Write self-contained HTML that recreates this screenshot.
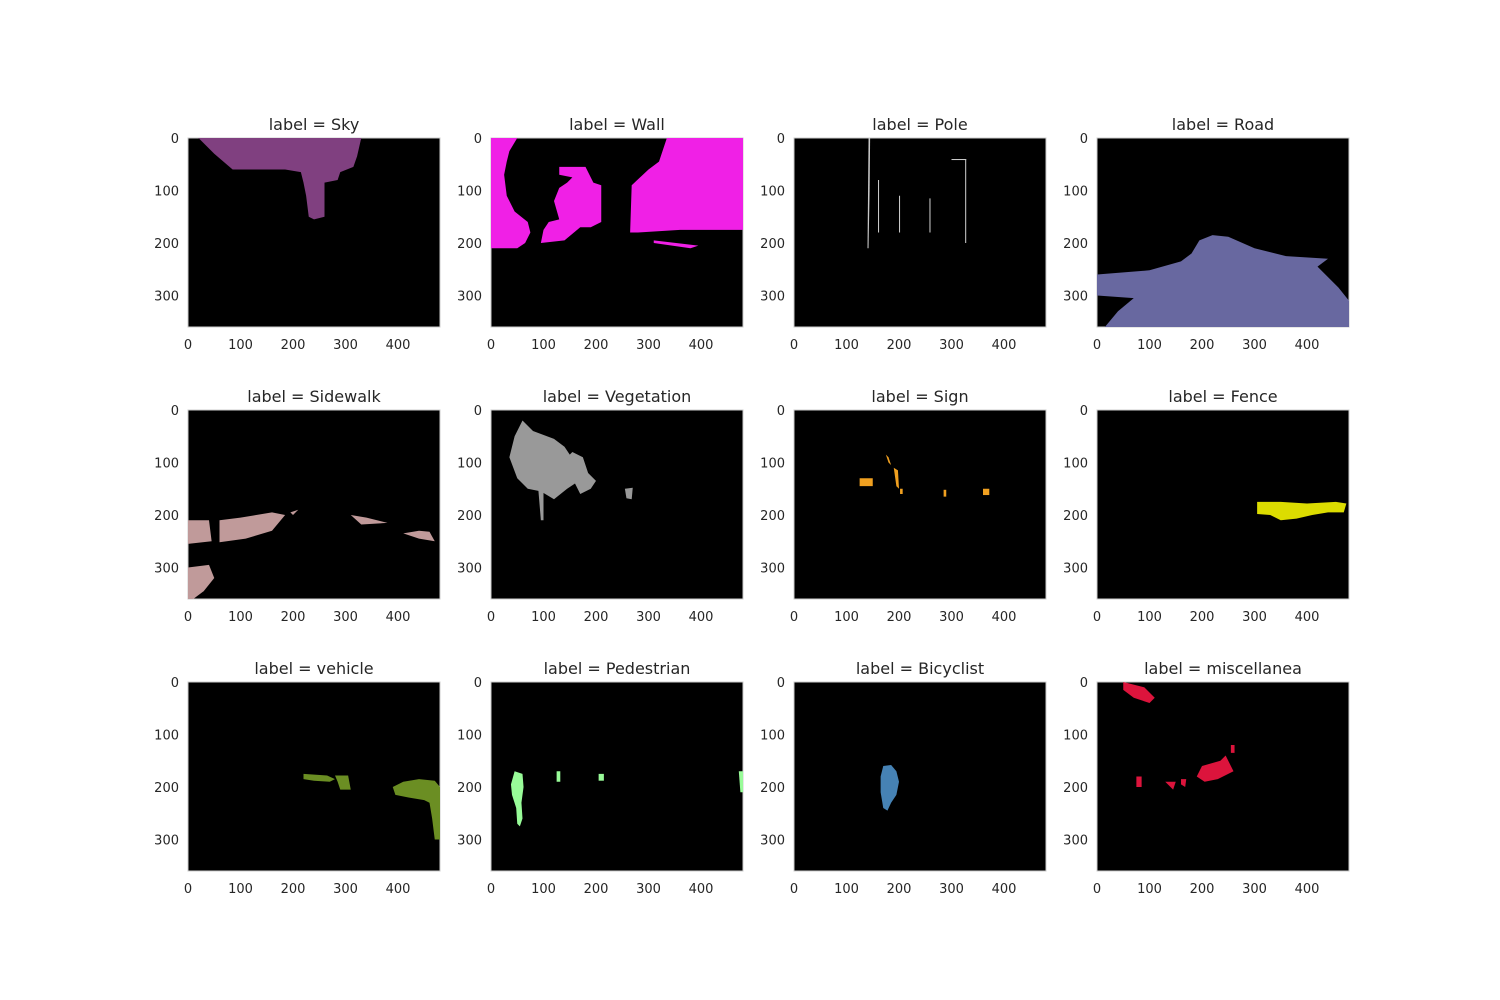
<!DOCTYPE html>
<html><head><meta charset="utf-8">
<style>
body{margin:0;background:#fff;}
svg{display:block;font-family:"DejaVu Sans","Liberation Sans",sans-serif;}
</style></head>
<body>
<svg id="fig" width="1500" height="1000" viewBox="0 0 1500 1000"></svg>
<script>
// Panel data: labels, colors, and region polygons in image coordinates (480x360)
const labels = ["Sky","Wall","Pole","Road","Sidewalk","Vegetation","Sign","Fence","vehicle","Pedestrian","Bicyclist","miscellanea"];
const colors = ["#804080","#f020e6","#c8c8c8","#6868a0","#c09a9a","#999999","#f0a020","#dcdc00","#6b8e23","#98fb98","#4682b4","#dc143c"];
const xTicks = [0,100,200,300,400];
const yTicks = [0,100,200,300];
const regions = [
 [[[20,0],[330,0],[322,35],[315,55],[290,65],[285,80],[260,85],[260,150],[240,155],[230,150],[225,110],[220,85],[215,65],[185,60],[170,60],[130,60],[85,60],[50,30],[20,0]]],
 [[[0,0],[50,0],[35,25],[30,45],[25,70],[30,110],[45,140],[70,160],[75,180],[65,200],[50,210],[0,210]],
  [[130,55],[180,55],[195,85],[210,90],[210,160],[190,170],[170,170],[140,195],[95,200],[100,175],[110,160],[130,155],[120,120],[130,95],[145,85],[155,75],[130,70]],
  [[335,0],[480,0],[480,175],[360,175],[280,180],[265,180],[268,90],[300,60],[320,45]],
  [[310,195],[395,205],[380,210],[310,200]]],
 [[[142,0],[145,0],[144,100],[142,210],[140,210]],[[160,80],[162,80],[162,180],[160,180]],[[200,110],[202,110],[202,180],[200,180]],[[258,115],[260,115],[260,180],[258,180]],[[326,40],[328,40],[328,200],[326,200]],[[300,40],[328,40],[328,42],[300,42]]],
 [[[0,260],[100,252],[160,235],[180,220],[195,195],[220,185],[250,188],[300,210],[360,225],[440,230],[420,245],[440,265],[460,285],[480,310],[480,360],[15,360],[40,330],[70,305],[0,300]]],
 [[[0,210],[40,210],[45,250],[0,255]],[[60,210],[100,205],[160,195],[185,200],[160,230],[110,245],[60,252]],[[310,200],[340,205],[380,215],[330,218]],[[410,235],[440,230],[460,232],[470,250],[440,245]],[[0,300],[40,295],[50,320],[30,345],[10,360],[0,360]],[[195,195],[210,190],[200,200]]],
 [[[60,20],[80,40],[120,55],[140,70],[150,85],[155,80],[175,90],[185,120],[200,135],[190,150],[170,160],[160,140],[145,150],[120,170],[95,155],[70,150],[50,130],[35,90],[45,50]],[[255,150],[270,148],[268,170],[258,168]],[[90,150],[95,210],[100,210],[100,150]]],
 [[[125,130],[150,130],[150,145],[125,145]],[[175,85],[180,90],[185,105],[180,100]],[[190,110],[198,115],[200,150],[195,145]],[[202,150],[207,150],[207,160],[202,160]],[[285,152],[290,152],[290,165],[285,165]],[[360,150],[372,150],[372,162],[360,162]]],
 [[[305,175],[350,175],[400,178],[455,175],[475,178],[470,195],[440,195],[410,200],[380,207],[350,210],[330,200],[305,198]]],
 [[[220,175],[265,178],[280,185],[270,190],[240,188],[220,185]],[[280,178],[305,178],[310,205],[290,205],[285,190]],[[390,200],[410,190],[440,185],[470,188],[480,200],[480,300],[470,300],[465,260],[460,230],[450,225],[420,220],[395,215]]],
 [[[45,170],[60,175],[62,200],[58,230],[60,260],[55,275],[50,270],[48,240],[40,215],[38,195]],[[125,170],[132,170],[132,190],[125,190]],[[205,175],[215,175],[215,188],[205,188]],[[472,170],[480,170],[480,210],[475,210]]],
 [[[170,160],[185,158],[195,170],[200,190],[195,215],[185,230],[178,245],[170,240],[165,210],[165,180]]],
 [[[50,0],[90,10],[110,30],[100,40],[70,30],[50,15]],[[200,160],[235,150],[245,140],[255,160],[260,170],[230,185],[205,190],[190,180]],[[75,180],[85,180],[85,200],[75,200]],[[130,190],[150,190],[145,205]],[[255,120],[262,120],[262,135],[255,135]],[[160,185],[170,185],[168,200],[160,195]]]
];
const NS="http://www.w3.org/2000/svg";
const fig=document.getElementById('fig');
const colX=[188,491,794,1097], rowY=[138,410,682];
const W=252, H=189;
function mk(tag,attrs){const e=document.createElementNS(NS,tag);for(const k in attrs)e.setAttribute(k,attrs[k]);return e;}
labels.forEach((lab,i)=>{
  const x0=colX[i%4], y0=rowY[Math.floor(i/4)];
  const sx=v=>x0+v*W/480, sy=v=>y0+v*H/360;
  const g=mk('g',{});
  
  
  fig.appendChild(g);
  const bg=mk('rect',{x:x0,y:y0,width:W,height:H,fill:'#000',stroke:'#cccccc','stroke-width':1});
  
  
  g.appendChild(bg);
  regions[i].forEach(poly=>{
    const p=mk('polygon',{points:poly.map(q=>sx(q[0])+','+sy(q[1])).join(' '),fill:colors[i]});
    
    
    g.appendChild(p);
  });
  const t=mk('text',{x:x0+W/2,y:y0-8,'text-anchor':'middle','font-size':16,fill:'#262626'});
  t.textContent='label = '+lab;
  
  
  g.appendChild(t);
  xTicks.forEach(v=>{
    const tt=mk('text',{x:sx(v),y:y0+H+22,'text-anchor':'middle','font-size':13,fill:'#262626'});
    tt.textContent=v;
    
    
    g.appendChild(tt);
  });
  yTicks.forEach(v=>{
    const tt=mk('text',{x:x0-9,y:sy(v)+5,'text-anchor':'end','font-size':13,fill:'#262626'});
    tt.textContent=v;
    
    
    g.appendChild(tt);
  });
});
</script>
</body></html>
